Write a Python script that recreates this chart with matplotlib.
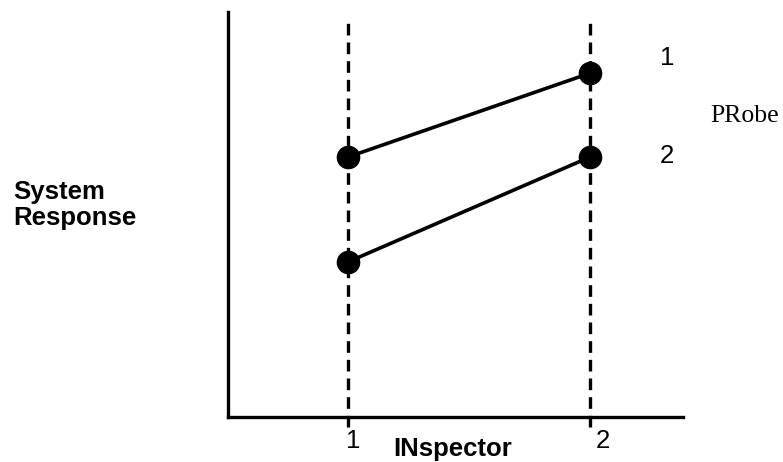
import matplotlib.pyplot as plt
from matplotlib.transforms import offset_copy

plt.rcParams["font.family"] = ["Liberation Sans", "DejaVu Sans"]

inspectors = [1, 2]
inspector_labels = ["1", "2"]
probe_names = ["1", "2"]
probe1 = [6.42, 8.49]
probe2 = [3.83, 6.42]

fig = plt.figure(figsize=(7.83, 4.62), dpi=100)
ax = fig.add_axes([228 / 783, 45 / 462, 455 / 783, 405 / 462])

ax.set_xlim(0.504, 2.384)
ax.set_ylim(0, 10)

for x in inspectors:
    ax.axvline(x, ymin=-0.025, ymax=0.975, color="black", lw=2.4,
               linestyle=(0, (3.5, 2.1)), clip_on=False, zorder=1)

for vals in [probe1, probe2]:
    ax.plot(inspectors, vals, color="black", lw=2.6, marker="o",
            markersize=16, zorder=3)

# probe labels right of the second inspector
ax.annotate(probe_names[0], (inspectors[1], probe1[1]), xytext=(77, 15),
            textcoords="offset pixels", ha="center", va="center", fontsize=18.5)
ax.annotate(probe_names[1], (inspectors[1], probe2[1]), xytext=(77, 1),
            textcoords="offset pixels", ha="center", va="center", fontsize=18.5)
fig.text(745 / 783, 1 - 116 / 462, "PRobe", ha="center", va="center",
         fontsize=18.5, family="Liberation Serif")

for side in ["top", "right"]:
    ax.spines[side].set_visible(False)
for side in ["left", "bottom"]:
    ax.spines[side].set_linewidth(2.4)

ax.set_yticks([])
ax.set_xticks(inspectors)
ax.set_xticklabels(inspector_labels, fontsize=18.5)
ax.tick_params(axis="x", length=0, pad=9)
for lab, dx in zip(ax.get_xticklabels(), [5, 13]):
    lab.set_transform(offset_copy(lab.get_transform(), fig=fig, x=dx, y=0, units="dots"))

fig.text(453 / 783, 1 - 449 / 462, "INspector", ha="center", va="center",
         fontsize=18.5, fontweight="bold")
fig.text(13 / 783, 1 - 205 / 462, "System\nResponse", ha="left", va="center",
         fontsize=18.5, fontweight="bold", linespacing=1.06)

fig.savefig("out.png", dpi=100)
